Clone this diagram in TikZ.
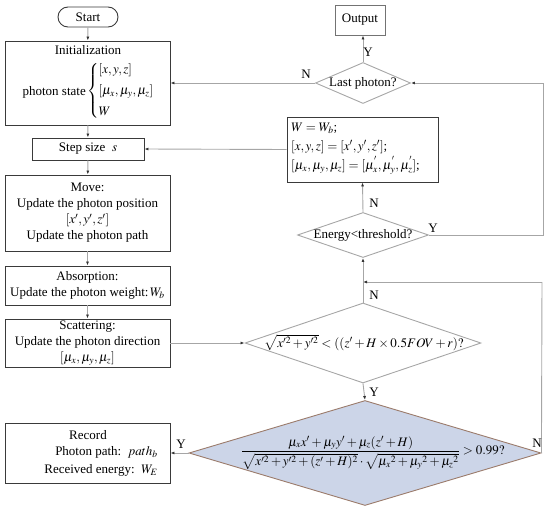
\documentclass[tikz,border=0pt]{standalone}
\usepackage{amsmath}
\usepackage{mathptmx}
\usepackage{fontspec}
\setmainfont{Liberation Serif}
\usetikzlibrary{arrows.meta,shapes.geometric}
\definecolor{conn}{HTML}{A6A6A6}
\definecolor{bord}{HTML}{3A3A3A}
\definecolor{bigfill}{HTML}{CCD5E8}
\definecolor{bigbord}{HTML}{9B7B6B}
\tikzset{
  box/.style={draw=bord, line width=0.9pt, rectangle, inner sep=0pt, font=\fontsize{13}{16}\selectfont, align=center},
  dia/.style={draw=conn, line width=0.9pt, diamond, inner sep=0pt},
  conline/.style={draw=conn, line width=0.9pt},
  arr/.style={conline, -{Latex[length=4pt,width=3pt,color=black!80]}},
  lbl/.style={font=\fontsize{13}{15}\selectfont, inner sep=0pt},
  txt/.style={font=\fontsize{13}{16}\selectfont, inner sep=0pt, align=center}
}
\begin{document}
\begin{tikzpicture}[x=1pt,y=-1pt]
\useasboundingbox (0,0) rectangle (550,506);
% left column
\node[box, rounded corners=10pt, minimum width=60pt, minimum height=20pt] (start) at (88,17) {Start};
\node[box, minimum width=165pt, minimum height=84pt] (init) at (87.5,83) {};
\node[txt] at (88,50) {Initialization};
\node[txt, anchor=east] at (86,92) {photon state};
\node[txt, anchor=west] at (87,91) {$\left\{\begin{array}{@{}l@{}}[x,y,z]\\[5pt] [\mu_x,\mu_y,\mu_z]\\[5pt] W\end{array}\right.$};
\node[box, minimum width=112pt, minimum height=22pt] (step) at (88,149) {Step size~~$s$};
\node[box, minimum width=165pt, minimum height=76pt] (move) at (87.5,213) {Move:\\ Update the photon position\\ $[x',y',z']$\\ Update the photon path};
\node[box, minimum width=165pt, minimum height=39pt] (abs) at (87.5,285.5) {Absorption:\\ Update the photon weight:$\,W_b$};
\node[box, minimum width=165pt, minimum height=48pt] (scat) at (87.5,343) {Scattering:\\ Update the photon direction\\ $[\mu_x,\mu_y,\mu_z]$};
\node[box, minimum width=165pt, minimum height=60pt] (rec) at (87.5,453) {};
\node[txt, anchor=north] at (88,430) {Record};
\node[txt, anchor=north east] at (158,446) {Photon path:~~$path_b$};
\node[txt, anchor=north east] at (158,464) {Received energy:~~$W_E$};
% right column
\node[box, draw=black!55, minimum width=50pt, minimum height=30pt] (out) at (360,20) {Output};
\node[dia, minimum width=95pt, minimum height=41pt] (last) at (363,83) {};
\node[txt] at (last) {Last photon?};
\node[box, minimum width=151pt, minimum height=65pt] (upd) at (362.5,149.5) {};
\node[txt, anchor=west, align=left, font=\fontsize{13}{19}\selectfont] at (291,148.5) {$W=W_b$;\\ $[x,y,z]=[x',y',z']$;\\ $[\mu_x,\mu_y,\mu_z]=[\mu_x^{'},\mu_y^{'},\mu_z^{'}]$;};
\node[dia, minimum width=131pt, minimum height=45pt] (en) at (363,235) {};
\node[txt] at (en) {Energy<threshold?};
\node[dia, minimum width=236pt, minimum height=80pt] (mid) at (363,343) {};
\node[txt] at (364,343) {$\sqrt{x'^2+y'^2}<((z'+H\times 0.5FOV+r)?$};
\node[dia, draw=bigbord, fill=bigfill, minimum width=352pt, minimum height=105pt] (big) at (365,453) {};
\node[txt] at (373,453) {$\dfrac{\mu_x x'+\mu_y y'+\mu_z(z'+H)}{\sqrt{x'^2+y'^2+(z'+H)^2}\cdot\sqrt{\mu_x{}^2+\mu_y{}^2+\mu_z{}^2}}>0.99?$};
% coordinates for loops
\coordinate (r1) at (543,235);
\coordinate (r2) at (543,83);
\coordinate (b1) at (542,282);
\coordinate (j1) at (363,282);
% connectors
\draw[arr] (start) -- (init);
\draw[arr] (init) -- (step);
\draw[arr] (step) -- (move);
\draw[arr] (move) -- (abs);
\draw[arr] (abs) -- (scat);
\draw[arr] (scat.east) -- (mid.west);
\draw[arr] (mid.south) -- (big.north);
\draw[arr] (big.west) -- (rec.east);
\draw[conline] (big.east) -- (b1);
\draw[arr] (b1) -- (j1);
\draw[arr] (mid.north) -- (en.south);
\draw[arr] (en.north) -- (upd.south);
\draw[arr] (upd.west) -- (step.east);
\draw[conline] (en.east) -- (r1) -- (r2);
\draw[arr] (r2) -- (last.east);
\draw[arr] (last.west) -- (init.east |- last.west);
\draw[arr] (last.north) -- (last.north |- out.south);
% labels
\node[lbl] at (368,52) {Y};
\node[lbl] at (306,74) {N};
\node[lbl] at (374,203) {N};
\node[lbl] at (433,228) {Y};
\node[lbl] at (374,295) {N};
\node[lbl] at (374,392) {Y};
\node[lbl] at (181,444) {Y};
\node[lbl] at (537,443) {N};
\end{tikzpicture}
\end{document}
